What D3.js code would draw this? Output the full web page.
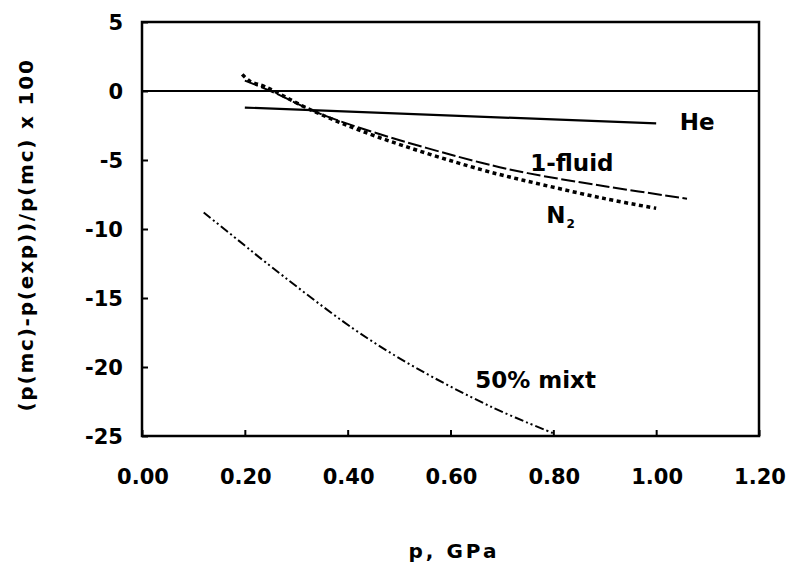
<!DOCTYPE html>
<html>
<head>
<meta charset="utf-8">
<script src="https://cdn.jsdelivr.net/npm/d3@7"></script>
<style>
  body { margin: 0; background: #fff; }
  text { font-family: "DejaVu Sans", "Liberation Sans", Arial, sans-serif; font-weight: bold; fill: #000; }
</style>
</head>
<body>
<div id="chart"></div>
<script>
// values
var xTicks = [0.00, 0.20, 0.40, 0.60, 0.80, 1.00, 1.20];
var yTicks = [5, 0, -5, -10, -15, -20, -25];

var heP = [0.20, 1.00];
var heV = [-1.2, -2.35];

var fluidP = [0.20, 0.25, 0.34, 0.46, 0.66, 0.75, 0.90, 1.06];
var fluidV = [0.75, 0.0, -1.55, -3.1, -5.2, -5.95, -6.9, -7.8];

var n2P = [0.195, 0.21, 0.24, 0.33, 0.46, 0.66, 0.78, 0.90, 1.00];
var n2V = [1.2, 0.7, 0.3, -1.4, -3.35, -5.7, -6.8, -7.8, -8.5];

var mixP = [0.12, 0.20, 0.24, 0.41, 0.53, 0.68, 0.80];
var mixV = [-8.8, -11.2, -12.4, -17.2, -20.0, -22.9, -24.8];

var W = 789, H = 565;
var margin = {top: 22, right: 30, bottom: 129, left: 142};

var svg = d3.select("#chart").append("svg")
    .attr("width", W)
    .attr("height", H);

var x = d3.scaleLinear().domain([0, 1.2]).range([margin.left, W - margin.right]);
var y = d3.scaleLinear().domain([-25, 5]).range([H - margin.bottom, margin.top]);

function pts(ps, vs) {
    return ps.map(function(p, i){ return [p, vs[i]]; });
}

var line = d3.line()
    .x(function(d){ return x(d[0]); })
    .y(function(d){ return y(d[1]); })
    .curve(d3.curveCatmullRom.alpha(0.5));

// bottom axis: inward ticks, labels drawn separately
var xAxis = svg.append("g")
    .attr("transform", "translate(0," + y(-25) + ")")
    .call(d3.axisBottom(x).tickValues(xTicks).tickSizeInner(-6).tickSizeOuter(0).tickFormat(""));
xAxis.select(".domain").remove();
xAxis.selectAll("line").attr("stroke", "#000").attr("stroke-width", 2);

var yAxis = svg.append("g")
    .attr("transform", "translate(" + x(0) + ",0)")
    .call(d3.axisLeft(y).tickValues(yTicks).tickSizeInner(-6).tickSizeOuter(0).tickFormat(""));
yAxis.select(".domain").remove();
yAxis.selectAll("line").attr("stroke", "#000").attr("stroke-width", 2);

// tick labels
svg.append("g").selectAll("text")
    .data(xTicks)
    .enter()
    .append("text")
    .attr("x", function(d){ return x(d) + 1; })
    .attr("y", 484)
    .attr("text-anchor", "middle")
    .attr("font-size", 21)
    .text(function(d){ return d3.format(".2f")(d); });

svg.append("g").selectAll("text")
    .data(yTicks)
    .enter()
    .append("text")
    .attr("x", 123)
    .attr("y", function(d){ return y(d); })
    .attr("dy", "0.36em")
    .attr("text-anchor", "end")
    .attr("font-size", 21)
    .text(function(d){ return d; });

// zero line
svg.append("line")
    .attr("x1", x(0)).attr("x2", x(1.2))
    .attr("y1", y(0)).attr("y2", y(0))
    .attr("stroke", "#000")
    .attr("stroke-width", 2.2);

// curves
svg.append("path")
    .attr("d", line(pts(heP, heV)))
    .attr("fill", "none")
    .attr("stroke", "#000")
    .attr("stroke-width", 2.2);

svg.append("path")
    .attr("d", line(pts(fluidP, fluidV)))
    .attr("fill", "none")
    .attr("stroke", "#000")
    .attr("stroke-width", 2)
    .attr("stroke-dasharray", "14,3.5");

svg.append("path")
    .attr("d", line(pts(n2P, n2V)))
    .attr("fill", "none")
    .attr("stroke", "#000")
    .attr("stroke-width", 3.5)
    .attr("stroke-dasharray", "4,3.5");

svg.append("path")
    .attr("d", line(pts(mixP, mixV)))
    .attr("fill", "none")
    .attr("stroke", "#000")
    .attr("stroke-width", 2)
    .attr("stroke-dasharray", "9,3,2,3,2,3");

// frame
svg.append("rect")
    .attr("x", x(0)).attr("y", y(5))
    .attr("width", x(1.2) - x(0))
    .attr("height", y(-25) - y(5))
    .attr("fill", "none")
    .attr("stroke", "#000")
    .attr("stroke-width", 2.5);

// curve labels
var lab = svg.append("g")
    .attr("font-size", 23);

lab.append("text").attr("x", x(1.046)).attr("y", y(-2.83)).text("He");
lab.append("text").attr("x", x(0.755)).attr("y", y(-5.83)).text("1-fluid");
var n2 = lab.append("text").attr("x", x(0.786)).attr("y", y(-9.6));
n2.append("tspan").text("N");
n2.append("tspan").attr("font-size", 12).attr("dy", 5).attr("dx", 1).text("2");
lab.append("text").attr("x", x(0.648)).attr("y", y(-21.5)).text("50% mixt");

// axis titles
svg.append("text")
    .attr("x", 454)
    .attr("y", 558)
    .attr("text-anchor", "middle")
    .attr("font-size", 20)
    .attr("letter-spacing", 3)
    .text("p, GPa");

svg.append("text")
    .attr("transform", "translate(33,235) rotate(-90)")
    .attr("text-anchor", "middle")
    .attr("font-size", 20)
    .attr("letter-spacing", 1.8)
    .text("(p(mc)-p(exp))/p(mc) x 100");
</script>
</body>
</html>
